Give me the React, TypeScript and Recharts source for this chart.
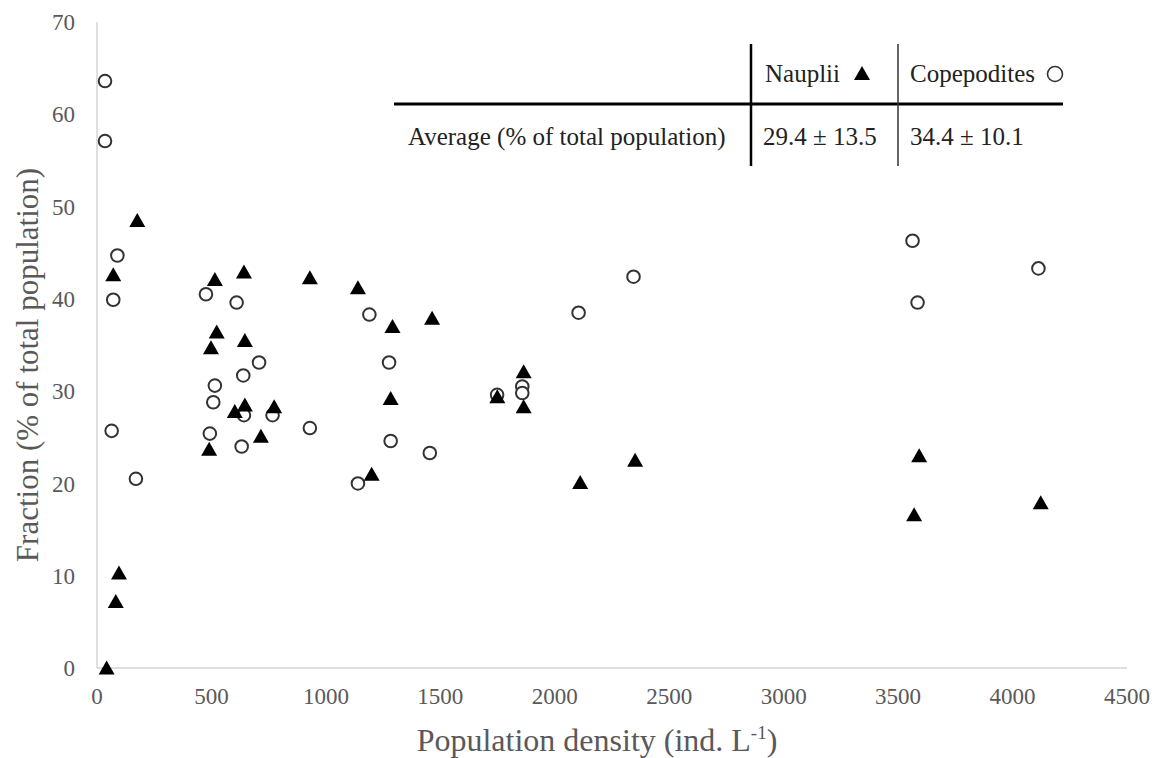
import { ScatterChart, Scatter, XAxis, YAxis } from 'recharts';

const W = 1160;
const H = 758;
const FONT = '"Liberation Serif", "Times New Roman", serif';
const TXT = '#595959';
const AXIS = '#bfbfbf';

// Nauplii (filled triangles)
const naupliiDensity = [42, 82, 96, 71, 176, 515, 642, 523, 646, 498, 646, 602, 774, 490, 716, 930, 1140, 1200, 1291, 1464, 1283, 1864, 1864, 1749, 2111, 2351, 3592, 3570, 4123];
const naupliiFraction = [0, 7.2, 10.3, 42.6, 48.5, 42.1, 42.9, 36.4, 35.5, 34.7, 28.5, 27.8, 28.3, 23.7, 25.1, 42.3, 41.2, 21.0, 37.0, 37.9, 29.2, 32.1, 28.3, 29.4, 20.1, 22.5, 23.0, 16.6, 17.9];

// Copepodites (open circles)
const copepoditeDensity = [35, 35, 89, 71, 64, 170, 476, 610, 708, 639, 515, 508, 642, 767, 493, 632, 930, 1140, 1190, 1276, 1283, 1454, 1748, 1858, 1858, 2104, 2344, 3563, 3585, 4113];
const copepoditeFraction = [63.6, 57.1, 44.7, 39.9, 25.7, 20.5, 40.5, 39.6, 33.1, 31.7, 30.6, 28.8, 27.4, 27.4, 25.4, 24.0, 26.0, 20.0, 38.3, 33.1, 24.6, 23.3, 29.6, 30.5, 29.8, 38.5, 42.4, 46.3, 39.6, 43.3];

const xTicks = [0, 500, 1000, 1500, 2000, 2500, 3000, 3500, 4000, 4500];
const yTicks = [0, 10, 20, 30, 40, 50, 60, 70];

const nauplii = naupliiDensity.map((x, i) => ({ x, y: naupliiFraction[i] }));
const copepodites = copepoditeDensity.map((x, i) => ({ x, y: copepoditeFraction[i] }));

const Triangle = ({ cx, cy }: any) => (
  <path d={`M${cx},${cy - 7.5} L${cx + 8},${cy + 6.5} L${cx - 8},${cy + 6.5} Z`} fill="#000" />
);

const Circle = ({ cx, cy }: any) => (
  <circle cx={cx} cy={cy} r={6.3} fill="#fff" stroke="#333" strokeWidth={2} />
);

const tick = { fontSize: 23, fill: TXT, fontFamily: FONT };

export default function App() {
  return (
    <div style={{ position: 'absolute', left: 0, top: 0, width: W, height: H, background: '#fff' }}>
      <ScatterChart width={W} height={H} margin={{ top: 22, right: 33, left: 0, bottom: 0 }}>
        <XAxis
          type="number"
          dataKey="x"
          domain={[0, 4500]}
          ticks={xTicks}
          height={90}
          stroke={AXIS}
          tickLine={false}
          tickSize={0}
          tickMargin={20}
          tick={tick}
        />
        <YAxis
          type="number"
          dataKey="y"
          domain={[0, 70]}
          ticks={yTicks}
          width={97}
          stroke={AXIS}
          tickLine={false}
          tickSize={0}
          tickMargin={22}
          tick={tick}
        />
        <Scatter data={copepodites} shape={Circle} isAnimationActive={false} />
        <Scatter data={nauplii} shape={Triangle} isAnimationActive={false} />
      </ScatterChart>

      {/* axis titles and the inset summary table */}
      <svg
        width={W}
        height={H}
        style={{ position: 'absolute', left: 0, top: 0, pointerEvents: 'none' }}
      >
        <text x={597} y={751} textAnchor="middle" fontSize={32} fill={TXT} fontFamily={FONT}>
          Population density (ind. L<tspan dy={-12} fontSize={19}>-1</tspan><tspan dy={12}>)</tspan>
        </text>
        <text
          x={38}
          y={365}
          textAnchor="middle"
          fontSize={31}
          fill={TXT}
          fontFamily={FONT}
          transform="rotate(-90 38 365)"
        >
          Fraction (% of total population)
        </text>

        <line x1={394} x2={1063} y1={104} y2={104} stroke="#000" strokeWidth={3} />
        <line x1={751} x2={751} y1={44} y2={166} stroke="#000" strokeWidth={2.5} />
        <line x1={898} x2={898} y1={44} y2={166} stroke="#333" strokeWidth={1.5} />

        <g fontFamily={FONT} fontSize={25} fill="#222">
          <text x={765} y={82}>Nauplii</text>
          <text x={910} y={82}>Copepodites</text>
          <text x={408} y={145}>Average (% of total population)</text>
          <text x={763} y={145}>29.4 ± 13.5</text>
          <text x={910} y={145}>34.4 ± 10.1</text>
        </g>
        <path d="M862,66 L870,80 L854,80 Z" fill="#000" />
        <circle cx={1055} cy={74} r={7.5} fill="#fff" stroke="#333" strokeWidth={1.6} />
      </svg>
    </div>
  );
}
